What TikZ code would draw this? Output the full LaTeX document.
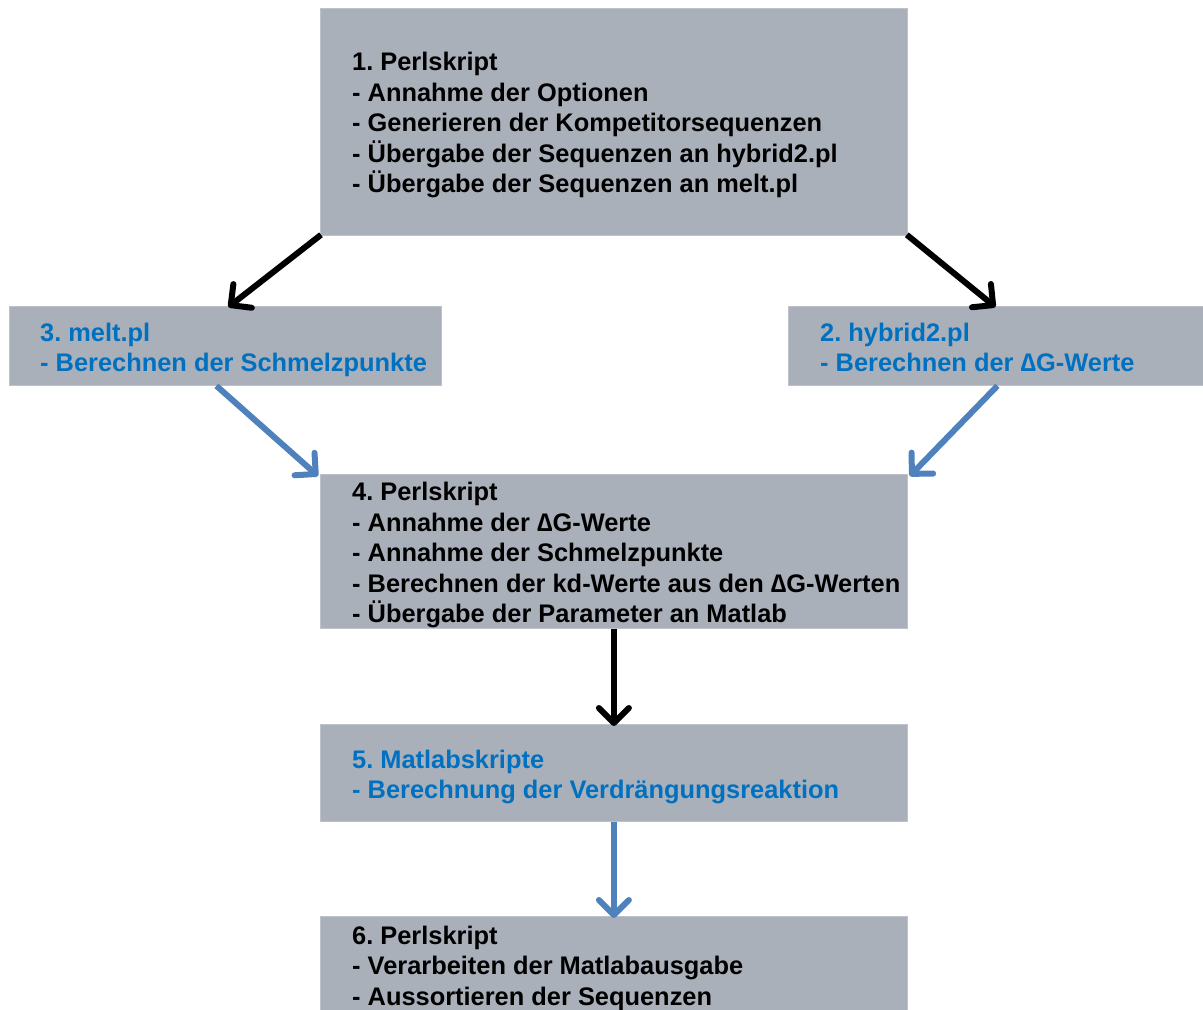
\documentclass[tikz,border=0pt]{standalone}
\usepackage{fontspec}
\setmainfont{Liberation Sans}
\usetikzlibrary{arrows.meta}
\definecolor{boxgrey}{RGB}{169,176,186}
\definecolor{boxedge}{RGB}{190,195,202}
\definecolor{txtblue}{RGB}{0,112,192}
\definecolor{arrblue}{RGB}{79,129,189}
\begin{document}
\begin{tikzpicture}[x=1pt,y=-1pt,
  box/.style={draw=boxedge,line width=0.8pt,fill=boxgrey,minimum width=#1,inner sep=0pt,anchor=north west,rectangle},
  txt/.style={anchor=west,align=left,inner sep=0pt,font=\fontsize{25.4}{30.5}\selectfont\bfseries\frenchspacing},
  tipstyle/.style={-{Straight Barb[length=15pt,width=30pt,line width=6pt,round]}},
  blk/.style={draw=black,line width=6pt,tipstyle},
  blu/.style={draw=arrblue,line width=6pt,tipstyle},
]
\useasboundingbox (0,0) rectangle (1203,1010);
\clip (0,0) rectangle (1203,1010);
% boxes
\node[box=587pt,minimum height=227pt] (b1) at (320,8) {};
\node[box=432pt,minimum height=79pt] (b3) at (9,306) {};
\node[box=420pt,minimum height=79pt] (b2) at (788,306) {};
\node[box=587pt,minimum height=154pt] (b4) at (320,474) {};
\node[box=587pt,minimum height=97pt] (b5) at (320,724) {};
\node[box=587pt,minimum height=120pt] (b6) at (320,916) {};
% texts
\node[txt] (t1) at (352,125) {1. Perlskript\\- Annahme der Optionen\\- Generieren der Kompetitorsequenzen\\- Übergabe der Sequenzen an hybrid2.pl\\- Übergabe der Sequenzen an melt.pl};
\node[txt,text=txtblue] (t3) at (40,350) {3. melt.pl\\- Berechnen der Schmelzpunkte};
\node[txt,text=txtblue] (t2) at (820,347.5) {2. hybrid2.pl\\- Berechnen der ∆G-Werte};
\node[txt] (t4) at (352,555) {4. Perlskript\\- Annahme der ∆G-Werte\\- Annahme der Schmelzpunkte\\- Berechnen der kd-Werte aus den ∆G-Werten\\- Übergabe der Parameter an Matlab};
\node[txt,text=txtblue] (t5) at (352,777) {5. Matlabskripte\\- Berechnung der Verdrängungsreaktion};
\node[txt] (t6) at (352,968) {6. Perlskript\\- Verarbeiten der Matlabausgabe\\- Aussortieren der Sequenzen};
% arrows
\draw[blk] ([xshift=1pt,yshift=1pt]b1.south west) -- ([xshift=3pt,yshift=-1pt]b3.north);
\draw[blk] ([xshift=-1pt,yshift=1pt]b1.south east) -- ([xshift=-3pt,yshift=-1pt]b2.north);
\draw[blu] ([xshift=-9pt]b3.south) -- ([xshift=-2pt,yshift=-2pt]b4.north west);
\draw[blu] ([xshift=-1pt]b2.south) -- ([xshift=2pt,yshift=-2pt]b4.north east);
\draw[blk] (b4.south) -- ([yshift=-2pt]b5.north);
\draw[blu] (b5.south) -- ([yshift=-2pt]b6.north);
\end{tikzpicture}
\end{document}
